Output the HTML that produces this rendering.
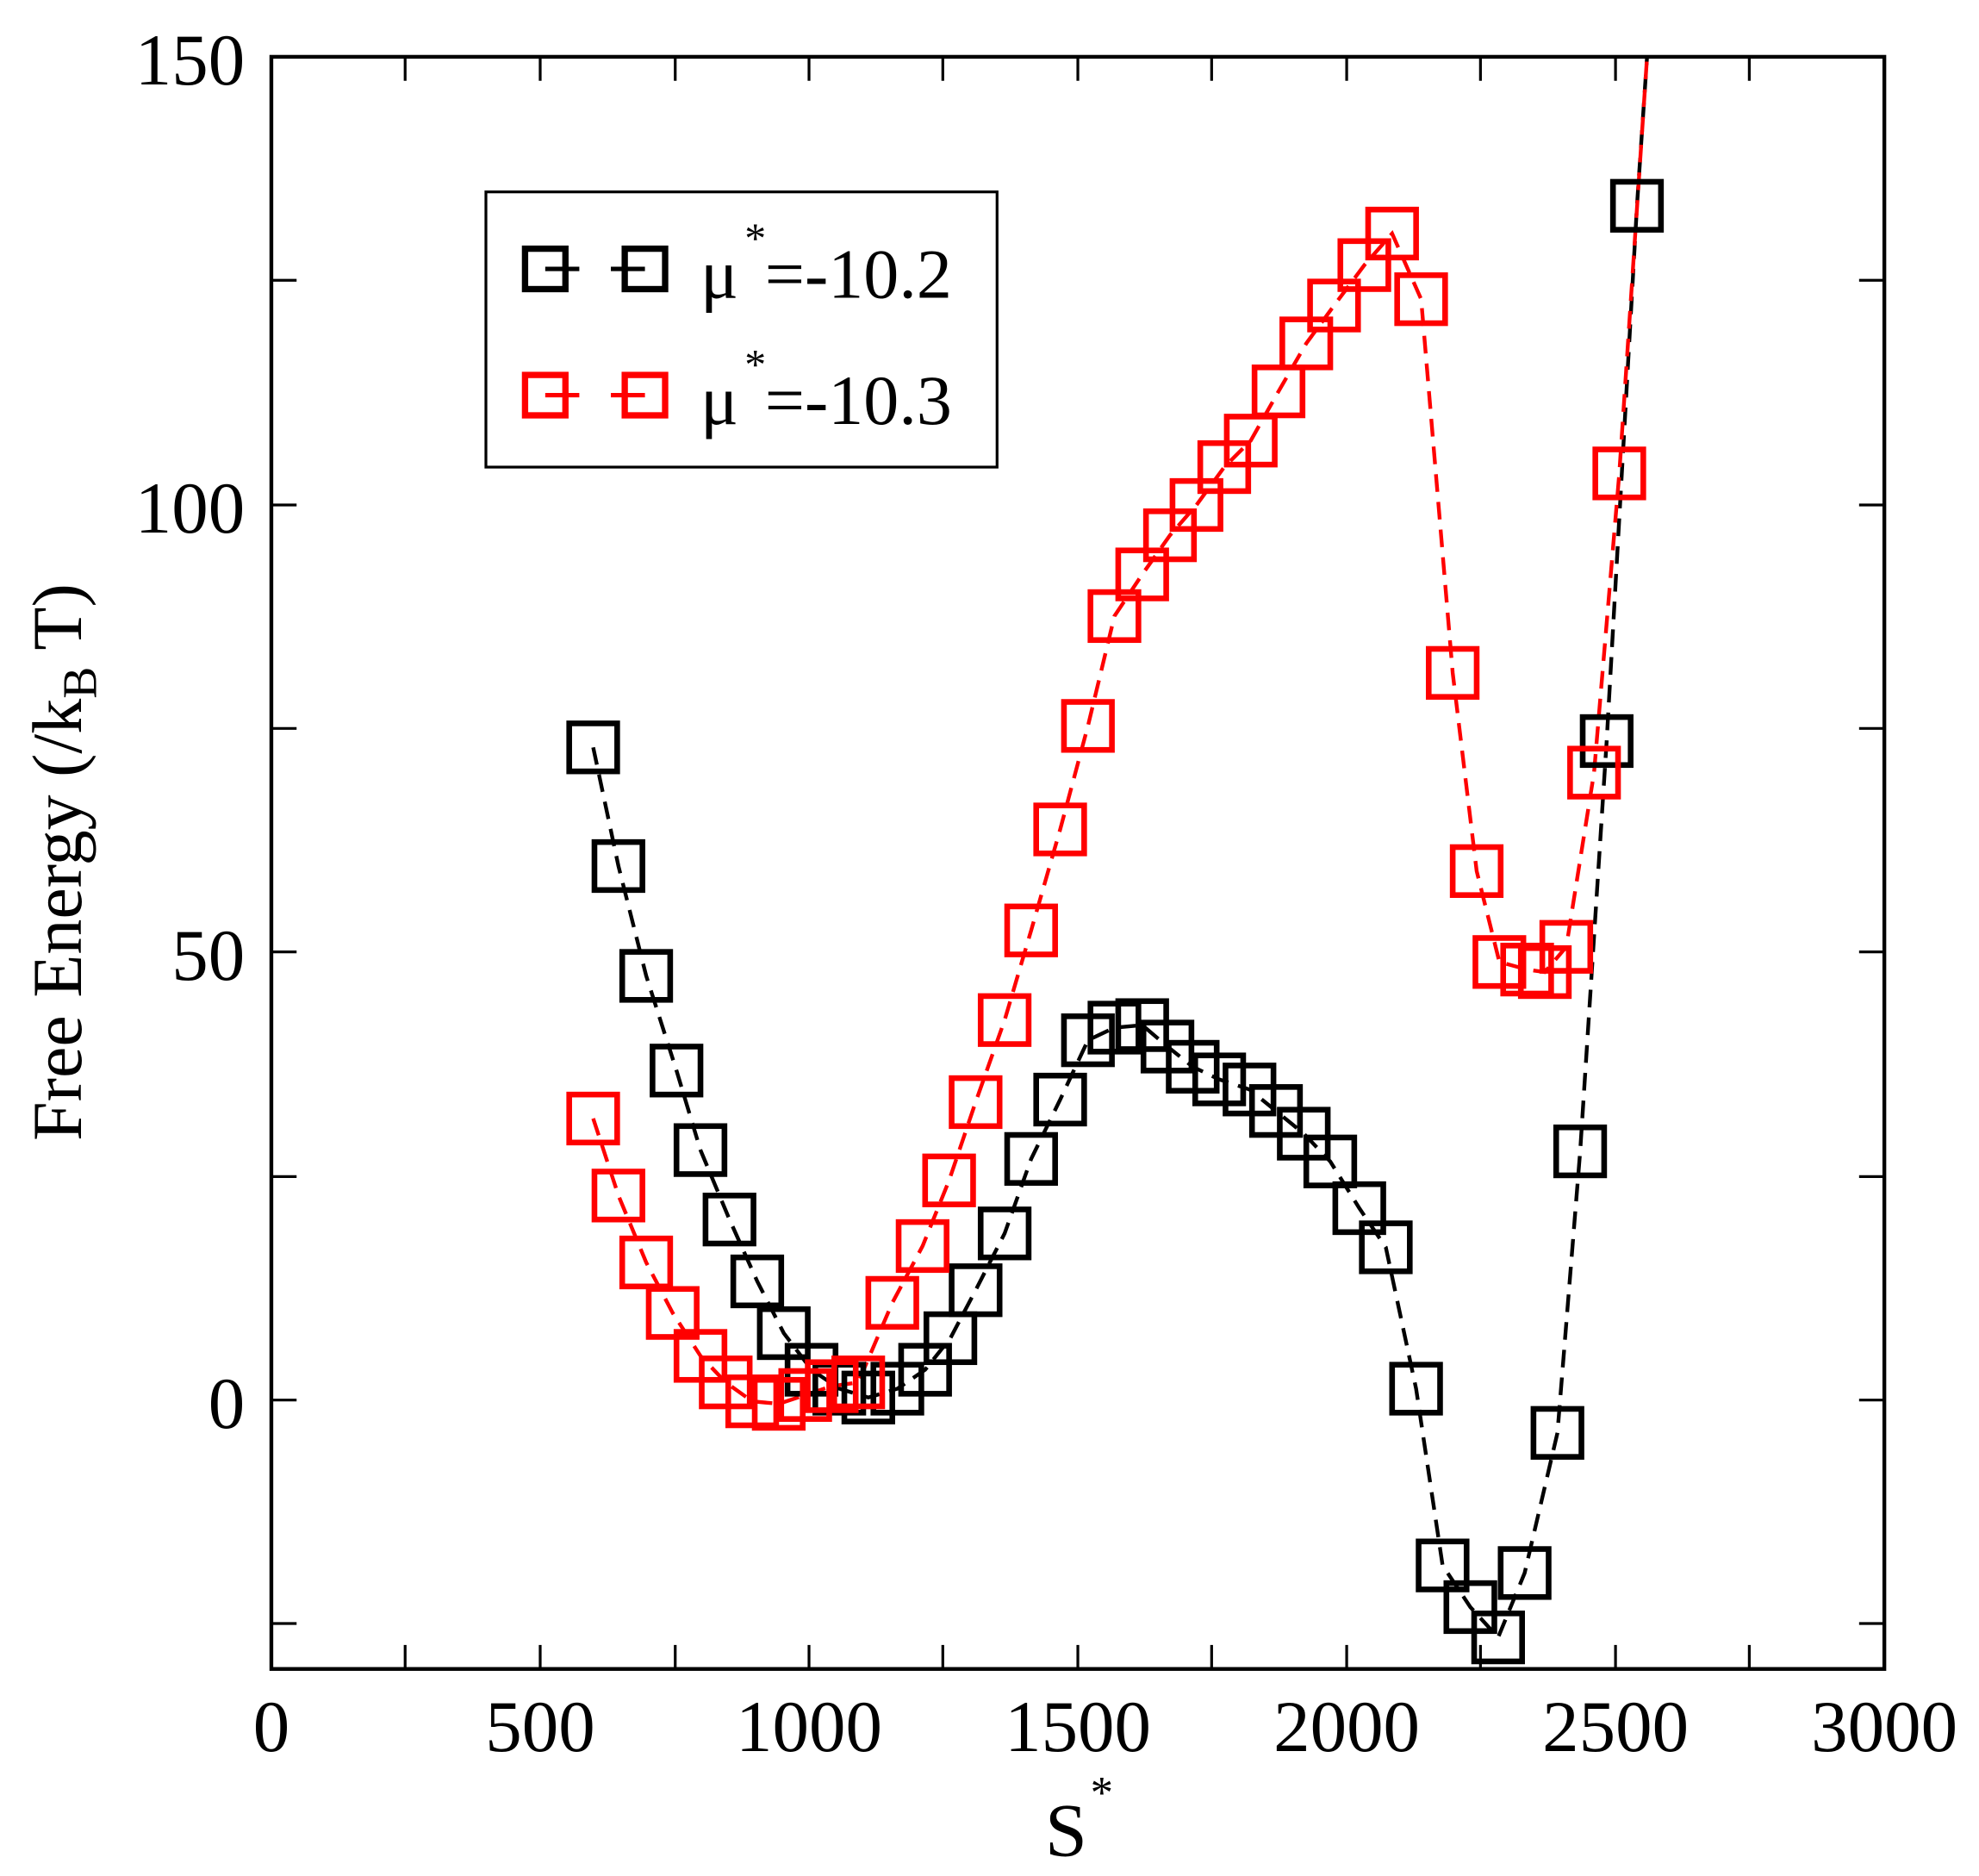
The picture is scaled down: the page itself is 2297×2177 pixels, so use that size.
<!DOCTYPE html>
<html><head><style>html,body{margin:0;padding:0;background:#fff}svg{display:block}</style></head>
<body>
<svg width="2297" height="2177" viewBox="0 0 1568 1486" preserveAspectRatio="none" xmlns="http://www.w3.org/2000/svg" font-family="Liberation Serif, serif">
<defs><clipPath id="c"><rect x="215" y="45" width="1278" height="1277"/></clipPath></defs>
<rect x="215" y="45" width="1278" height="1277" fill="none" stroke="#000" stroke-width="3"/>
<g stroke="#000" stroke-width="2.2">
<line x1="321" y1="45" x2="321" y2="64"/><line x1="428" y1="45" x2="428" y2="64"/><line x1="535" y1="45" x2="535" y2="64"/><line x1="641" y1="45" x2="641" y2="64"/><line x1="747" y1="45" x2="747" y2="64"/><line x1="854" y1="45" x2="854" y2="64"/><line x1="960" y1="45" x2="960" y2="64"/><line x1="1067" y1="45" x2="1067" y2="64"/><line x1="1173" y1="45" x2="1173" y2="64"/><line x1="1280" y1="45" x2="1280" y2="64"/><line x1="1386" y1="45" x2="1386" y2="64"/>
<line x1="321" y1="1322" x2="321" y2="1303"/><line x1="428" y1="1322" x2="428" y2="1303"/><line x1="535" y1="1322" x2="535" y2="1303"/><line x1="641" y1="1322" x2="641" y2="1303"/><line x1="747" y1="1322" x2="747" y2="1303"/><line x1="854" y1="1322" x2="854" y2="1303"/><line x1="960" y1="1322" x2="960" y2="1303"/><line x1="1067" y1="1322" x2="1067" y2="1303"/><line x1="1173" y1="1322" x2="1173" y2="1303"/><line x1="1280" y1="1322" x2="1280" y2="1303"/><line x1="1386" y1="1322" x2="1386" y2="1303"/>
<line x1="215" y1="222" x2="235" y2="222"/><line x1="215" y1="400" x2="235" y2="400"/><line x1="215" y1="577" x2="235" y2="577"/><line x1="215" y1="754" x2="235" y2="754"/><line x1="215" y1="932" x2="235" y2="932"/><line x1="215" y1="1109" x2="235" y2="1109"/><line x1="215" y1="1286" x2="235" y2="1286"/>
<line x1="1493" y1="222" x2="1473" y2="222"/><line x1="1493" y1="400" x2="1473" y2="400"/><line x1="1493" y1="577" x2="1473" y2="577"/><line x1="1493" y1="754" x2="1473" y2="754"/><line x1="1493" y1="932" x2="1473" y2="932"/><line x1="1493" y1="1109" x2="1473" y2="1109"/><line x1="1493" y1="1286" x2="1473" y2="1286"/>
</g>
<g font-size="58" fill="#000" text-anchor="end">
<text x="194" y="67">150</text><text x="194" y="422">100</text><text x="194" y="776">50</text><text x="194" y="1131">0</text>
</g>
<g font-size="58" fill="#000" text-anchor="middle">
<text x="215" y="1387">0</text><text x="428" y="1387">500</text><text x="641" y="1387">1000</text><text x="854" y="1387">1500</text><text x="1067" y="1387">2000</text><text x="1280" y="1387">2500</text><text x="1493" y="1387">3000</text>
</g>
<text x="828" y="1470" font-size="60">S</text><text x="864" y="1432" font-size="36">*</text>
<text transform="translate(64,683) rotate(-90)" font-size="56" text-anchor="middle">Free Energy (/k<tspan font-size="38" dy="12">B</tspan><tspan dy="-12"> T)</tspan></text>
<g clip-path="url(#c)" fill="none" stroke-width="4.5">
<polyline stroke="#000" stroke-width="3" stroke-dasharray="14,8" points="470,592 490,686 512,773 536,848 555,911 578,966 600,1015 621,1056 643,1085 665,1100 688,1107 711,1100 733,1085 753,1060 773,1022 796,977 817,918 840,871 862,824 883,814 905,812 925,829 945,845 966,855 990,863 1011,880 1033,898 1054,920 1077,957 1098,988 1122,1100 1143,1240 1165,1273 1187,1297 1208,1246 1234,1135 1252,912 1273,587 1297,163 1305,45"/>
<polyline stroke="#f00" stroke-width="3" stroke-dasharray="14,8" points="470,886 490,947 512,1000 533,1040 555,1074 575,1095 596,1110 617,1112 638,1105 659,1098 680,1095 707,1032 731,987 752,935 773,873 796,808 817,737 840,657 862,575 883,488 905,455 927,424 948,400 970,370 991,349 1013,310 1035,272 1057,242 1081,210 1103,185 1126,237 1151,533 1170,690 1188,762 1210,768 1224,770 1241,750 1263,612 1283,375 1306,30"/>
<g stroke="#000" transform="translate(-2,-2)">
<rect x="453" y="575" width="38" height="38"/><rect x="473" y="669" width="38" height="38"/><rect x="495" y="756" width="38" height="38"/><rect x="519" y="831" width="38" height="38"/><rect x="538" y="894" width="38" height="38"/><rect x="561" y="949" width="38" height="38"/><rect x="583" y="998" width="38" height="38"/><rect x="604" y="1039" width="38" height="38"/><rect x="626" y="1068" width="38" height="38"/><rect x="648" y="1083" width="38" height="38"/><rect x="671" y="1090" width="38" height="38"/><rect x="694" y="1083" width="38" height="38"/><rect x="716" y="1068" width="38" height="38"/><rect x="736" y="1043" width="38" height="38"/><rect x="756" y="1005" width="38" height="38"/><rect x="779" y="960" width="38" height="38"/><rect x="800" y="901" width="38" height="38"/><rect x="823" y="854" width="38" height="38"/><rect x="845" y="807" width="38" height="38"/><rect x="866" y="797" width="38" height="38"/><rect x="888" y="795" width="38" height="38"/><rect x="908" y="812" width="38" height="38"/><rect x="928" y="828" width="38" height="38"/><rect x="949" y="838" width="38" height="38"/><rect x="973" y="846" width="38" height="38"/><rect x="994" y="863" width="38" height="38"/><rect x="1016" y="881" width="38" height="38"/><rect x="1037" y="903" width="38" height="38"/><rect x="1060" y="940" width="38" height="38"/><rect x="1081" y="971" width="38" height="38"/><rect x="1105" y="1083" width="38" height="38"/><rect x="1126" y="1223" width="38" height="38"/><rect x="1148" y="1256" width="38" height="38"/><rect x="1170" y="1280" width="38" height="38"/><rect x="1191" y="1229" width="38" height="38"/><rect x="1217" y="1118" width="38" height="38"/><rect x="1235" y="895" width="38" height="38"/><rect x="1256" y="570" width="38" height="38"/><rect x="1280" y="146" width="38" height="38"/>
</g>
<g stroke="#f00" transform="translate(-2,-2)">
<rect x="453" y="869" width="38" height="38"/><rect x="473" y="930" width="38" height="38"/><rect x="495" y="983" width="38" height="38"/><rect x="516" y="1023" width="38" height="38"/><rect x="538" y="1057" width="38" height="38"/><rect x="558" y="1078" width="38" height="38"/><rect x="579" y="1093" width="38" height="38"/><rect x="600" y="1095" width="38" height="38"/><rect x="621" y="1088" width="38" height="38"/><rect x="642" y="1081" width="38" height="38"/><rect x="663" y="1078" width="38" height="38"/><rect x="690" y="1015" width="38" height="38"/><rect x="714" y="970" width="38" height="38"/><rect x="735" y="918" width="38" height="38"/><rect x="756" y="856" width="38" height="38"/><rect x="779" y="791" width="38" height="38"/><rect x="800" y="720" width="38" height="38"/><rect x="823" y="640" width="38" height="38"/><rect x="845" y="558" width="38" height="38"/><rect x="866" y="471" width="38" height="38"/><rect x="888" y="438" width="38" height="38"/><rect x="910" y="407" width="38" height="38"/><rect x="931" y="383" width="38" height="38"/><rect x="953" y="353" width="38" height="38"/><rect x="974" y="332" width="38" height="38"/><rect x="996" y="293" width="38" height="38"/><rect x="1018" y="255" width="38" height="38"/><rect x="1040" y="225" width="38" height="38"/><rect x="1064" y="193" width="38" height="38"/><rect x="1086" y="168" width="38" height="38"/><rect x="1109" y="220" width="38" height="38"/><rect x="1134" y="516" width="38" height="38"/><rect x="1153" y="673" width="38" height="38"/><rect x="1171" y="745" width="38" height="38"/><rect x="1193" y="751" width="38" height="38"/><rect x="1207" y="753" width="38" height="38"/><rect x="1224" y="733" width="38" height="38"/><rect x="1246" y="595" width="38" height="38"/><rect x="1266" y="358" width="38" height="38"/>
</g>
</g>
<rect x="385" y="152" width="405" height="218" fill="#fff" stroke="#000" stroke-width="2.2"/>
<g fill="none" stroke-width="5">
<line x1="432" y1="213" x2="511" y2="213" stroke="#000" stroke-width="3.5" stroke-dasharray="27,25,27"/>
<rect x="416" y="197" width="32" height="32" stroke="#000"/><rect x="495" y="197" width="32" height="32" stroke="#000"/>
<line x1="432" y1="313" x2="511" y2="313" stroke="#f00" stroke-width="3.5" stroke-dasharray="27,25,27"/>
<rect x="416" y="297" width="32" height="32" stroke="#f00"/><rect x="495" y="297" width="32" height="32" stroke="#f00"/>
</g>
<g font-size="56" fill="#000">
<text x="555" y="236">μ</text><text x="590" y="200" font-size="34">*</text><text x="606" y="236">=-10.2</text>
<text x="555" y="336">μ</text><text x="590" y="300" font-size="34">*</text><text x="606" y="336">=-10.3</text>
</g>
</svg>
</body></html>
